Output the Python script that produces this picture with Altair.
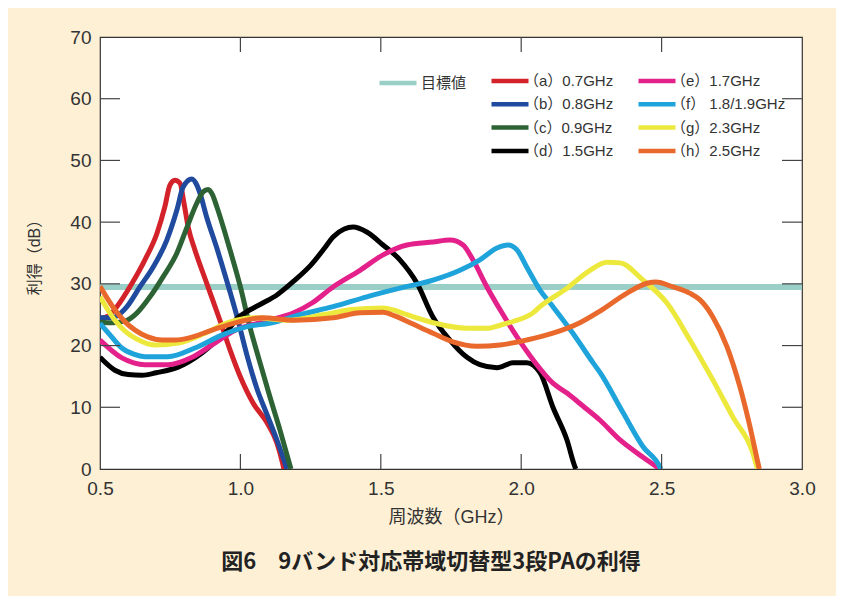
import altair as alt
import pandas as pd

# ---- data ----
target_gain = [29.5]

freq_a = [0.50, 0.53, 0.56, 0.614, 0.66, 0.703, 0.731, 0.749, 0.767, 0.785, 0.799, 0.815, 0.838, 0.88, 0.927, 0.963, 1.0, 1.045, 1.095, 1.13, 1.15, 1.155]
gain_a = [24.4, 24.8, 26.3, 30.1, 33.9, 38.2, 42.5, 46.0, 46.8, 46.3, 43.1, 39.0, 35.5, 30.1, 24.1, 19.3, 14.9, 10.7, 7.5, 4.2, 1.0, 0.0]

freq_b = [0.50, 0.547, 0.575, 0.596, 0.642, 0.689, 0.738, 0.774, 0.796, 0.827, 0.845, 0.856, 0.88, 0.916, 0.952, 0.988, 1.023, 1.059, 1.095, 1.13, 1.166]
gain_b = [24.5, 24.6, 25.3, 26.3, 29.5, 32.7, 37.1, 42.0, 45.7, 47.0, 46.0, 44.7, 40.8, 35.8, 30.4, 24.7, 18.5, 13.0, 8.8, 4.7, 0.0]

freq_c = [0.50, 0.547, 0.596, 0.632, 0.678, 0.724, 0.774, 0.81, 0.845, 0.867, 0.885, 0.90, 0.916, 0.963, 1.0, 1.034, 1.07, 1.105, 1.141, 1.177, 1.18]
gain_c = [23.8, 23.7, 24.1, 25.3, 27.9, 31.1, 35.0, 39.2, 43.1, 44.9, 45.3, 44.5, 42.5, 35.5, 29.5, 23.0, 17.2, 11.7, 6.3, 0.5, 0.0]

freq_d = [0.50, 0.553, 0.60, 0.65, 0.70, 0.778, 0.863, 0.92, 0.956, 0.99, 1.016, 1.08, 1.13, 1.194, 1.25, 1.30, 1.33, 1.37, 1.401, 1.45, 1.508, 1.568, 1.629, 1.686, 1.746, 1.807, 1.853, 1.914, 1.971, 2.02, 2.067, 2.113, 2.163, 2.192, 2.195]
gain_d = [18.1, 16.0, 15.3, 15.2, 15.6, 16.5, 18.8, 21.0, 22.5, 24.5, 25.3, 26.9, 28.2, 30.6, 33.0, 35.8, 37.6, 38.9, 39.2, 38.4, 36.3, 33.9, 30.1, 24.6, 20.9, 18.1, 16.9, 16.4, 17.2, 17.2, 15.6, 10.0, 4.7, 0.3, 0.0]

freq_e = [0.50, 0.578, 0.62, 0.66, 0.742, 0.828, 0.899, 0.981, 1.077, 1.194, 1.255, 1.33, 1.426, 1.508, 1.593, 1.686, 1.746, 1.793, 1.828, 1.878, 1.925, 1.985, 2.042, 2.113, 2.163, 2.22, 2.281, 2.352, 2.434, 2.494]
gain_e = [20.9, 18.0, 17.2, 16.9, 16.9, 18.1, 20.1, 22.5, 23.8, 25.4, 26.9, 29.5, 32.2, 34.7, 36.3, 36.8, 37.1, 36.3, 33.9, 29.5, 25.8, 21.4, 17.7, 13.9, 12.3, 10.2, 7.9, 4.7, 1.9, 0.0]

freq_f = [0.50, 0.54, 0.578, 0.62, 0.66, 0.742, 0.838, 0.934, 1.016, 1.112, 1.212, 1.33, 1.45, 1.568, 1.686, 1.782, 1.853, 1.914, 1.953, 1.985, 2.02, 2.067, 2.108, 2.184, 2.256, 2.281, 2.363, 2.434, 2.494, 2.497]
gain_f = [23.6, 21.5, 19.6, 18.6, 18.2, 18.2, 19.6, 21.7, 23.0, 23.7, 25.0, 26.3, 27.9, 29.3, 30.6, 32.2, 33.9, 35.8, 36.3, 35.5, 32.7, 29.0, 26.6, 22.0, 17.2, 15.6, 9.1, 3.6, 0.3, 0.0]

freq_g = [0.50, 0.553, 0.59, 0.625, 0.696, 0.778, 0.874, 0.956, 1.052, 1.17, 1.25, 1.33, 1.39, 1.45, 1.508, 1.55, 1.593, 1.686, 1.807, 1.878, 1.925, 1.971, 2.042, 2.067, 2.163, 2.245, 2.306, 2.352, 2.434, 2.519, 2.601, 2.683, 2.754, 2.825, 2.84, 2.843]
gain_g = [27.9, 24.1, 22.3, 21.2, 20.1, 20.4, 22.0, 23.7, 24.5, 24.1, 24.6, 25.3, 25.8, 26.0, 26.1, 25.7, 25.0, 23.7, 22.8, 22.8, 23.3, 23.9, 25.3, 26.3, 29.3, 32.2, 33.5, 33.4, 30.6, 26.9, 20.9, 14.4, 8.4, 2.6, 0.3, 0.0]

freq_h = [0.50, 0.553, 0.59, 0.625, 0.67, 0.721, 0.77, 0.814, 0.899, 0.991, 1.077, 1.194, 1.33, 1.426, 1.508, 1.55, 1.604, 1.686, 1.757, 1.842, 1.925, 2.02, 2.113, 2.209, 2.281, 2.377, 2.448, 2.48, 2.541, 2.60, 2.637, 2.683, 2.733, 2.779, 2.815, 2.843, 2.848]
gain_h = [29.6, 25.8, 23.8, 22.5, 21.4, 20.9, 20.9, 21.2, 22.5, 23.8, 24.5, 24.1, 24.5, 25.3, 25.4, 24.8, 23.7, 22.0, 20.6, 19.9, 20.1, 20.9, 22.0, 23.7, 25.6, 28.5, 30.1, 30.3, 29.5, 28.5, 27.4, 24.6, 19.8, 13.3, 6.8, 1.0, 0.0]

series_names = ["（a）0.7GHz", "（b）0.8GHz", "（c）0.9GHz", "（d）1.5GHz",
                "（e）1.7GHz", "（f） 1.8/1.9GHz", "（g）2.3GHz", "（h）2.5GHz"]
series_colors = ["#D3222A", "#1F4A9E", "#2D6334", "#000000",
                 "#E4218B", "#1EA3DA", "#ECE83C", "#E8692B"]
target_name = ["目標値"]
target_color = ["#99CFC6"]

x_ticks = [1.0, 1.5, 2.0, 2.5]
y_ticks = [10, 20, 30, 40, 50, 60]
x_labels = [0.5, 1.0, 1.5, 2.0, 2.5, 3.0]
y_labels = [0, 10, 20, 30, 40, 50, 60, 70]

# ---- build tables ----
all_freq = [freq_a, freq_b, freq_c, freq_d, freq_e, freq_f, freq_g, freq_h]
all_gain = [gain_a, gain_b, gain_c, gain_d, gain_e, gain_f, gain_g, gain_h]
rows = []
for i, (name, fs, gs) in enumerate(zip(series_names, all_freq, all_gain)):
    for f, g in zip(fs, gs):
        rows.append({"series": name, "order": i, "f": f, "g": g})
df = pd.DataFrame(rows)
target_df = pd.DataFrame({"name": target_name, "g": target_gain})
xt_df = pd.DataFrame({"v": x_ticks})
yt_df = pd.DataFrame({"v": y_ticks})

FONT = "Liberation Sans, Noto Sans CJK JP"
W, H = 702, 432
xs = alt.Scale(domain=[0.5, 3.0], nice=False, zero=False)
ys = alt.Scale(domain=[0, 70], nice=False)

x_axis = alt.Axis(
    values=x_labels, format=".1f", title="周波数（GHz）", grid=False, ticks=False,
    domain=False, labelFontSize=19, labelFont=FONT, labelColor="#333",
    labelFlush=False, labelPadding=10, titleFont=FONT, titleFontSize=18,
    titleFontWeight="normal", titleColor="#333", titlePadding=10)
y_axis = alt.Axis(
    values=y_labels, title="利得（dB）", grid=False, ticks=False, domain=False,
    labelFontSize=19, labelFont=FONT, labelColor="#333", labelPadding=9,
    labelFlush=False, titleFont=FONT, titleFontSize=16, titleFontWeight="normal",
    titleColor="#333", titlePadding=27)

legend_common = dict(
    orient="none", title=None, symbolType="stroke", symbolSize=1369,
    symbolStrokeWidth=4.5, clipHeight=16, labelFontSize=15, labelFont=FONT,
    labelColor="#333", padding=0,
)

target = alt.Chart(target_df).mark_rule(strokeWidth=6, clip=True).encode(
    y=alt.Y("g:Q", scale=ys, axis=y_axis),
    color=alt.Color("name:N", scale=alt.Scale(domain=target_name, range=target_color),
                    legend=alt.Legend(legendX=277, legendY=38, labelOffset=2,
                                      **legend_common)),
)

lines = alt.Chart(df).mark_line(strokeWidth=5, clip=True, interpolate="monotone",
                                strokeJoin="round").encode(
    x=alt.X("f:Q", scale=xs, axis=x_axis),
    y=alt.Y("g:Q", scale=ys, axis=y_axis),
    color=alt.Color("series:N", scale=alt.Scale(domain=series_names, range=series_colors),
                    legend=alt.Legend(legendX=389, legendY=36, columns=2,
                                      columnPadding=22, rowPadding=7.3,
                                      labelOffset={"expr": "-7"},
                                      **legend_common)),
    detail="order:O",
    order="order:O",
)

tick_style = dict(color="#444", strokeWidth=1.2)
yt_left = alt.Chart(yt_df).mark_rule(**tick_style).encode(
    y=alt.Y("v:Q", scale=ys, axis=y_axis), x=alt.value(0), x2=alt.value(20))
yt_right = alt.Chart(yt_df).mark_rule(**tick_style).encode(
    y=alt.Y("v:Q", scale=ys, axis=y_axis), x=alt.value(W - 20), x2=alt.value(W))
xt_bottom = alt.Chart(xt_df).mark_rule(**tick_style).encode(
    x=alt.X("v:Q", scale=xs, axis=x_axis), y=alt.value(H - 15), y2=alt.value(H))
xt_top = alt.Chart(xt_df).mark_rule(**tick_style).encode(
    x=alt.X("v:Q", scale=xs, axis=x_axis), y=alt.value(0), y2=alt.value(15))

chart = alt.layer(target, lines, yt_left, yt_right, xt_bottom, xt_top).resolve_scale(
    color="independent"
).resolve_legend(color="independent").properties(
    width=W, height=H,
    autosize=alt.AutoSizeParams(type="none"),
    padding={"left": 92, "top": 29, "right": 34, "bottom": 127},
    background="#FEF0D5",
    title=alt.TitleParams(
        text="図6　9バンド対応帯域切替型3段PAの利得", orient="bottom", anchor="middle",
        font="Noto Sans CJK JP", fontSize=22, fontWeight="bold", color="#222",
        offset=26, dx=-20),
).configure_view(stroke="#333", strokeWidth=1.2, fill="white")

chart.save("out.html", embed_options={"renderer": "svg", "actions": False})
